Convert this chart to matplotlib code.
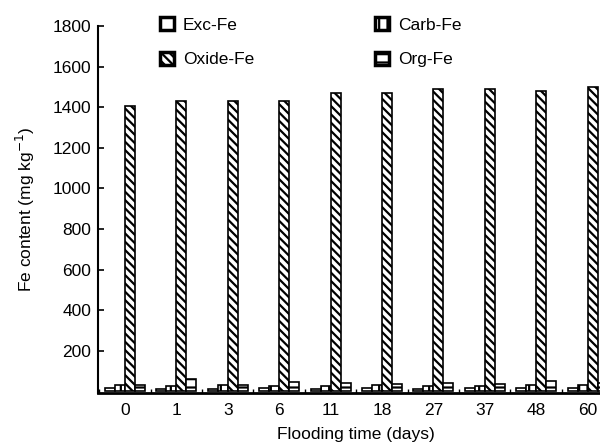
import numpy as np
import matplotlib.pyplot as plt
from matplotlib.patches import Patch

plt.rcParams['font.family'] = ['Liberation Sans', 'DejaVu Sans']
plt.rcParams['hatch.linewidth'] = 1.6

days = ["0", "1", "3", "6", "11", "18", "27", "37", "48", "60"]
exc_fe = [15, 12, 12, 15, 12, 15, 12, 15, 15, 15]
carb_fe = [30, 25, 30, 25, 25, 30, 25, 25, 30, 30]
oxide_fe = [1405, 1432, 1432, 1432, 1470, 1470, 1490, 1490, 1480, 1500]
org_fe = [30, 62, 30, 48, 42, 36, 40, 35, 50, 40]

series = [
    ("Exc-Fe", exc_fe, ""),
    ("Carb-Fe", carb_fe, "||"),
    ("Oxide-Fe", oxide_fe, "\\\\\\\\"),
    ("Org-Fe", org_fe, "--"),
]

fig = plt.figure(figsize=(6, 4.43), dpi=100)
ax = fig.add_axes([0.1633, 0.1129, 0.861, 0.8285])

x = np.arange(len(days))
w = 0.195
offsets = [-1.5, -0.5, 0.5, 1.5]

for (name, vals, hatch), off in zip(series, offsets):
    ax.bar(x + off * w, vals, width=w, facecolor="white", edgecolor="black",
           linewidth=1.2, hatch=hatch)

ax.set_xlim(-0.525, 9.525)
ax.set_ylim(-8, 1800)

ax.set_xticks(x)
ax.set_xticklabels(days, fontsize=12.5)
ax.set_xticks(np.arange(-0.5, 10, 1), minor=True)
ax.tick_params(axis="x", which="major", length=0, pad=7)
ax.tick_params(axis="x", which="minor", direction="in", length=3, width=1)

ax.set_yticks(np.arange(200, 1801, 200))
ax.tick_params(axis="y", direction="in", length=4, width=1.2, labelsize=12.5, pad=5)

for s in ["top", "right"]:
    ax.spines[s].set_visible(False)
ax.spines["left"].set_linewidth(1.5)
ax.spines["bottom"].set_linewidth(2)
ax.spines["left"].set_bounds(-8, 1800)

ax.set_xlabel("Flooding time (days)", fontsize=12.5, labelpad=7)
ax.set_ylabel("Fe content (mg kg$^{-1}$)", fontsize=12.5, labelpad=11)

handles = [Patch(facecolor="white", edgecolor="black", linewidth=2.5, hatch=h, label=n)
           for n, _, h in series]
order = [0, 2, 1, 3]
ax.legend([handles[i] for i in order], [series[i][0] for i in order],
          ncol=2, frameon=False, fontsize=12.5, handlelength=0.8, handleheight=0.8,
          handletextpad=0.5, columnspacing=7.0, labelspacing=1.1,
          loc="upper left", bbox_to_anchor=(0.09, 1.067))

fig.savefig("out.png", dpi=100)
